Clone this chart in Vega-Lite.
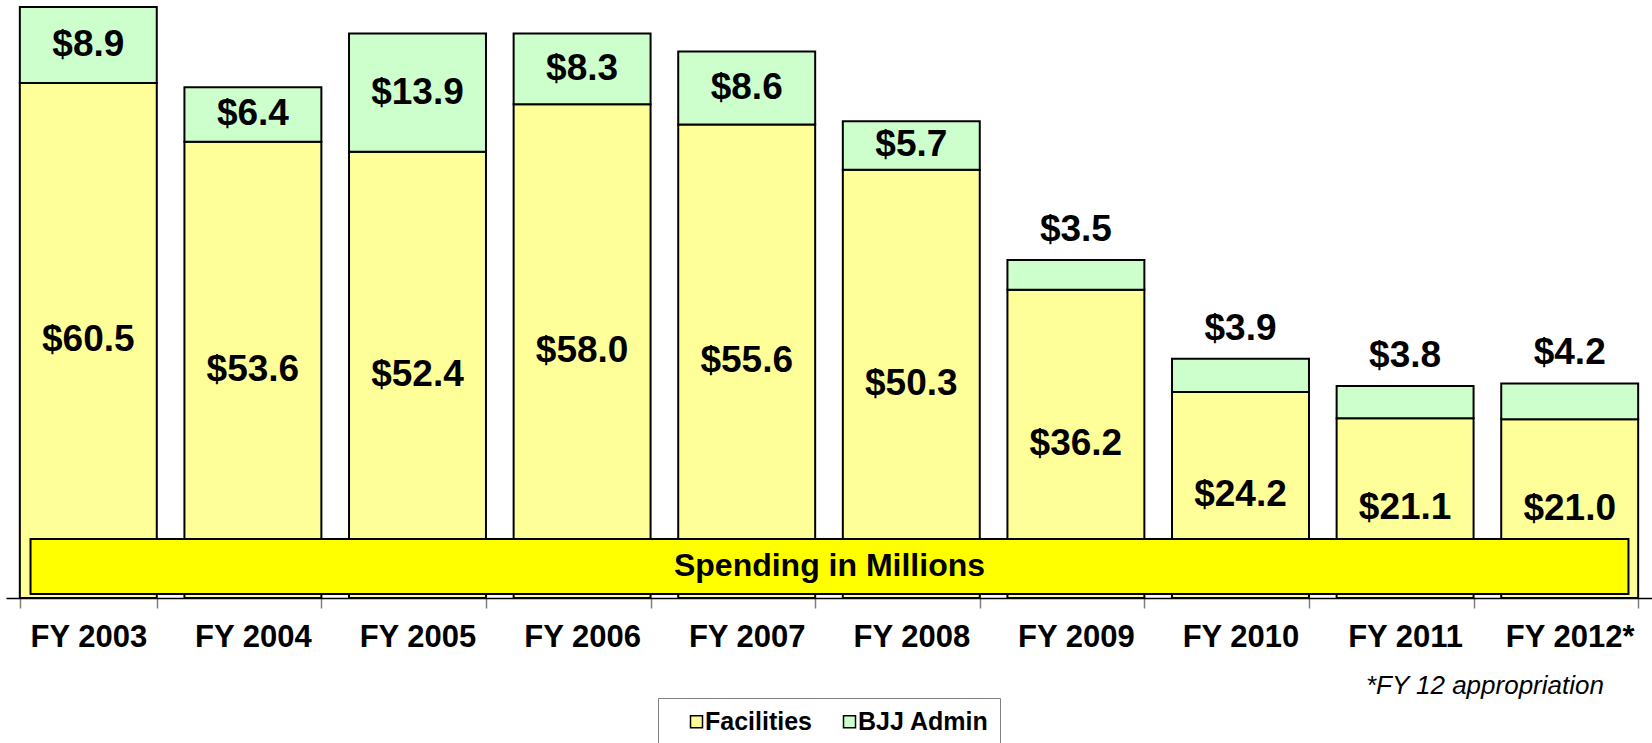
{
  "$schema": "https://vega.github.io/schema/vega-lite/v6.json",
  "autosize": {"type": "none"},
  "width": 1646,
  "height": 596,
  "padding": {"left": 6, "top": 2, "right": 0, "bottom": 145},
  "background": "white",
  "config": {"font": "Liberation Sans", "view": {"stroke": null}},
  "resolve": {"scale": {"x": "independent"}, "axis": {"x": "independent"}},
  "layer": [
    {
      "data": {"values": [
        {"year": "FY 2003", "series": "Facilities", "value": 60.5},
        {"year": "FY 2003", "series": "BJJ Admin", "value": 8.9},
        {"year": "FY 2004", "series": "Facilities", "value": 53.6},
        {"year": "FY 2004", "series": "BJJ Admin", "value": 6.4},
        {"year": "FY 2005", "series": "Facilities", "value": 52.4},
        {"year": "FY 2005", "series": "BJJ Admin", "value": 13.9},
        {"year": "FY 2006", "series": "Facilities", "value": 58.0},
        {"year": "FY 2006", "series": "BJJ Admin", "value": 8.3},
        {"year": "FY 2007", "series": "Facilities", "value": 55.6},
        {"year": "FY 2007", "series": "BJJ Admin", "value": 8.6},
        {"year": "FY 2008", "series": "Facilities", "value": 50.3},
        {"year": "FY 2008", "series": "BJJ Admin", "value": 5.7},
        {"year": "FY 2009", "series": "Facilities", "value": 36.2},
        {"year": "FY 2009", "series": "BJJ Admin", "value": 3.5},
        {"year": "FY 2010", "series": "Facilities", "value": 24.2},
        {"year": "FY 2010", "series": "BJJ Admin", "value": 3.9},
        {"year": "FY 2011", "series": "Facilities", "value": 21.1},
        {"year": "FY 2011", "series": "BJJ Admin", "value": 3.8},
        {"year": "FY 2012*", "series": "Facilities", "value": 21.0},
        {"year": "FY 2012*", "series": "BJJ Admin", "value": 4.2}
      ]},
      "encoding": {
        "x": {
          "field": "year", "type": "nominal", "sort": null,
          "scale": {"paddingInner": 0.168, "paddingOuter": 0.084},
          "axis": {
            "title": null, "labelAngle": 0, "tickBand": "extent",
            "domainColor": "black", "domainWidth": 1.5,
            "tickColor": "#808080", "tickSize": 10, "tickWidth": 1.5,
            "labelFont": "Liberation Sans", "labelFontWeight": "bold", "labelFontSize": 31,
            "labelColor": "black", "labelPadding": 14
          }
        },
        "y": {
          "field": "value", "type": "quantitative", "stack": "zero",
          "scale": {"domain": [0, 70], "nice": false},
          "axis": null
        },
        "order": {"field": "series", "sort": "descending"}
      },
      "layer": [
        {
          "mark": {"type": "bar", "stroke": "black", "strokeWidth": 2},
          "encoding": {
            "color": {
              "field": "series", "type": "nominal",
              "scale": {"domain": ["Facilities", "BJJ Admin"], "range": ["#FFFF99", "#CCFFCC"]},
              "legend": {
                "orient": "none", "legendX": 652, "legendY": 696, "direction": "horizontal",
                "title": " ", "titleOrient": "left", "titleFontSize": 1, "titlePadding": 15,
                "padding": 11, "strokeColor": "#808080", "fillColor": "white",
                "labelFont": "Liberation Sans", "labelFontWeight": "bold", "labelFontSize": 25, "labelColor": "black",
                "labelOffset": -4, "columnPadding": 25,
                "symbolType": "square", "symbolSize": 144, "symbolStrokeColor": "black", "symbolStrokeWidth": 1.5, "symbolOpacity": 1
              }
            }
          }
        },
        {
          "mark": {"type": "text", "font": "Liberation Sans", "fontWeight": "bold", "fontSize": 37, "color": "black", "baseline": "middle"},
          "encoding": {
            "y": {"field": "value", "type": "quantitative", "stack": "zero", "bandPosition": 0.5},
            "text": {
              "condition": {"test": "datum.series === 'BJJ Admin' && datum.value < 5", "value": ""},
              "field": "value", "type": "quantitative", "format": "$.1f"
            }
          }
        },
        {
          "mark": {"type": "text", "font": "Liberation Sans", "fontWeight": "bold", "fontSize": 37, "color": "black", "baseline": "middle", "dy": -30},
          "encoding": {
            "text": {
              "condition": {"test": "datum.series === 'BJJ Admin' && datum.value < 5", "field": "value", "type": "quantitative", "format": "$.1f"},
              "value": ""
            }
          }
        }
      ]
    },
    {
      "data": {"values": [{"label": "Spending in Millions"}]},
      "mark": {"type": "rect", "fill": "#FFFF00", "stroke": "black", "strokeWidth": 2},
      "encoding": {
        "x": {"datum": 0.0149, "type": "quantitative", "scale": {"domain": [0, 1], "nice": false, "zero": false}, "axis": null},
        "x2": {"datum": 0.9857},
        "y": {"datum": 0.47, "type": "quantitative"},
        "y2": {"datum": 6.93}
      }
    },
    {
      "data": {"values": [{"label": "Spending in Millions"}]},
      "mark": {"type": "text", "font": "Liberation Sans", "fontWeight": "bold", "fontSize": 32, "color": "black", "baseline": "middle", "align": "center"},
      "encoding": {
        "x": {"datum": 0.5003, "type": "quantitative", "scale": {"domain": [0, 1], "nice": false, "zero": false}, "axis": null},
        "y": {"datum": 3.7, "type": "quantitative"},
        "text": {"field": "label"}
      }
    },
    {
      "data": {"values": [{"note": "*FY 12 appropriation"}]},
      "mark": {"type": "text", "font": "Liberation Sans", "fontStyle": "italic", "fontSize": 26, "color": "black", "baseline": "middle", "align": "right"},
      "encoding": {
        "x": {"datum": 0.9708, "type": "quantitative", "scale": {"domain": [0, 1], "nice": false, "zero": false}, "axis": null},
        "y": {"datum": -10.34, "type": "quantitative"},
        "text": {"field": "note"}
      }
    }
  ]
}
